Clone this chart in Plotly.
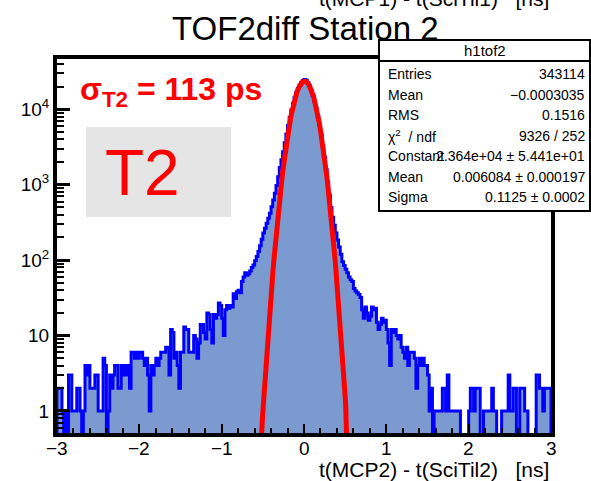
import numpy as np
import plotly.graph_objects as go

# ---------------- data ----------------
x_lo, x_hi, n_bins = -3.0, 3.0, 300
counts = [
    2, 2, 2, 1, 0, 1, 0, 3, 3, 1,
    1, 1, 2, 2, 1, 0, 1, 4, 3, 4,
    2, 2, 2, 3, 3, 1, 1, 1, 5, 4,
    0, 1, 3, 2, 3, 4, 4, 2, 2, 4,
    3, 4, 3, 4, 2, 6, 6, 5, 6, 5,
    6, 6, 5, 4, 5, 3, 1, 4, 3, 4,
    5, 4, 5, 6, 6, 6, 7, 7, 3, 12,
    11, 5, 6, 4, 2, 6, 6, 13, 12, 12,
    6, 6, 6, 10, 9, 5, 8, 14, 14, 11,
    9, 20, 19, 12, 8, 19, 17, 19, 27, 25,
    17, 10, 22, 25, 23, 25, 24, 36, 31, 38,
    40, 37, 52, 60, 68, 63, 66, 72, 80, 86,
    98, 112, 130, 155, 190, 229, 265, 310, 360, 420,
    510, 630, 770, 980, 1280, 1700, 2150, 2750, 3600, 4700,
    6100, 7800, 9800, 12100, 14500, 16900, 19100, 21000, 22700, 24200,
    24900, 24300, 22600, 20400, 17900, 15300, 12700, 10300, 8100, 6200,
    4600, 3300, 2300, 1600, 1080, 730, 500, 370, 290, 230,
    185, 150, 120, 95, 85, 76, 68, 60, 55, 52,
    42, 39, 37, 35, 32, 22, 17, 24, 20, 16,
    18, 24, 22, 23, 15, 12, 14, 17, 15, 16,
    12, 8, 4, 12, 11, 12, 10, 9, 10, 7,
    6, 5, 7, 4, 6, 6, 6, 5, 2, 4,
    5, 4, 5, 4, 4, 3, 1, 2, 0, 1,
    1, 1, 1, 1, 2, 2, 1, 3, 1, 1,
    1, 1, 1, 1, 1, 0, 0, 0, 0, 0,
    1, 2, 2, 1, 2, 2, 2, 0, 0, 1,
    1, 1, 1, 1, 2, 1, 1, 0, 0, 0,
    1, 1, 1, 1, 3, 1, 1, 2, 2, 0,
    0, 2, 2, 2, 1, 1, 0, 0, 0, 0,
    0, 3, 3, 2, 2, 1, 2, 2, 2, 2,
]

fit_constant = 2.364e4
fit_mean = 0.006084
fit_sigma = 0.1125

x_tick_vals = [-3, -2, -1, 0, 1, 2, 3]
x_tick_text = ["\u22123", "\u22122", "\u22121", "0", "1", "2", "3"]
y_tick_vals = [1, 10, 100, 1000, 10000]
y_tick_text = ["1", "10", "10<sup>2</sup>", "10<sup>3</sup>", "10<sup>4</sup>"]

stats_labels = ["Entries", "Mean", "RMS", "\u03c7<sup>2</sup>  / ndf", "Constant", "Mean", "Sigma"]
stats_values = ["343114", "\u22120.0003035", "0.1516", "9326 / 252",
                "2.364e+04 \u00b1 5.441e+01", "0.006084 \u00b1 0.000197", "0.1125 \u00b1 0.0002"]

# ---------------- geometry helpers (pixel -> paper) ----------------
W, H = 591, 481
PL, PR, PT, PB = 57, 551, 59, 433


def px(x):
    return (x - PL) / (PR - PL)


def py(y):
    return (PB - y) / (PB - PT)


# ---------------- traces ----------------
edges = np.linspace(x_lo, x_hi, n_bins + 1)
c = np.array(counts, dtype=float)
floor = 0.05
c_plot = np.where(c > 0, c, floor)
xs = np.concatenate([[edges[0]], edges, [edges[-1]]])
ys = np.concatenate([[floor], c_plot, [c_plot[-1], floor]])

xf = np.linspace(x_lo, x_hi, 600)
yf = fit_constant * np.exp(-0.5 * ((xf - fit_mean) / fit_sigma) ** 2)

fig = go.Figure()
fig.add_trace(go.Scatter(x=xs, y=ys, mode="lines", line=dict(color="#0000ff", width=3, shape="hv"),
                         fill="toself", fillcolor="rgb(123,155,208)", hoverinfo="skip"))
fig.add_trace(go.Scatter(x=xf, y=yf, mode="lines", line=dict(color="#ff0000", width=5),
                         hoverinfo="skip"))

# ---------------- layout ----------------
minor_y = [m * 10 ** k for k in range(-1, 5) for m in range(2, 10)]

fig.update_layout(
    width=W, height=H,
    margin=dict(l=PL, r=W - PR, t=PT, b=H - PB),
    paper_bgcolor="white", plot_bgcolor="white",
    showlegend=False,
    font=dict(family="Liberation Sans, Arial, sans-serif", color="black"),
    xaxis=dict(range=[x_lo, x_hi], tickmode="array", tickvals=x_tick_vals, showticklabels=False,
               ticks="inside", ticklen=9, tickwidth=2, tickcolor="black",
               minor=dict(tickmode="linear", tick0=0, dtick=0.2, ticks="inside", ticklen=5,
                          tickwidth=2, tickcolor="black", showgrid=False),
               showline=True, linewidth=4, linecolor="black", mirror=True,
               showgrid=False, zeroline=False),
    yaxis=dict(type="log", range=[-0.292, 4.668], tickmode="array", tickvals=y_tick_vals,
               ticktext=y_tick_text, ticks="inside", ticklen=13, tickwidth=2.5, tickcolor="black",
               minor=dict(tickmode="array", tickvals=minor_y, ticks="inside", ticklen=7,
                          tickwidth=2, tickcolor="black", showgrid=False),
               showline=True, linewidth=4, linecolor="black", mirror=True,
               showgrid=False, zeroline=False, tickfont=dict(size=19)),
)

shapes = []
# gray label box
shapes.append(dict(type="rect", xref="paper", yref="paper", x0=px(86), x1=px(231), y0=py(217), y1=py(127),
                   fillcolor="#e5e5e5", line=dict(width=0), layer="above"))
# stats box
shapes.append(dict(type="rect", xref="paper", yref="paper", x0=px(379), x1=px(590), y0=py(211), y1=py(40),
                   fillcolor="white", line=dict(color="black", width=2), layer="above"))
shapes.append(dict(type="line", xref="paper", yref="paper", x0=px(379), x1=px(590), y0=py(61), y1=py(61),
                   line=dict(color="black", width=2), layer="above"))
fig.update_layout(shapes=shapes)

ann = []
for tv, tt in zip(x_tick_vals, x_tick_text):
    ann.append(dict(text=tt, x=tv, xref="x", y=py(448), yref="paper", showarrow=False,
                    xanchor="center", yanchor="middle", font=dict(size=19)))
ann.append(dict(text="TOF2diff Station 2", x=px(305), y=py(29), xref="paper", yref="paper",
                showarrow=False, xanchor="center", yanchor="middle", font=dict(size=33)))
ann.append(dict(text="t(MCP1) - t(SciTil1)   [ns]", x=px(551), y=py(12), xref="paper", yref="paper",
                showarrow=False, xanchor="right", yanchor="bottom", font=dict(size=21)))
ann.append(dict(text="t(MCP2) - t(SciTil2)   [ns]", x=px(551), y=py(469), xref="paper", yref="paper",
                showarrow=False, xanchor="right", yanchor="middle", font=dict(size=21)))
ann.append(dict(text="<b>\u03c3<sub>T2</sub> = 113 ps</b>", x=px(78), y=py(91), xref="paper", yref="paper",
                showarrow=False, xanchor="left", yanchor="middle", font=dict(size=32, color="#ff0000")))
ann.append(dict(text="T2", x=px(142), y=py(173), xref="paper", yref="paper",
                showarrow=False, xanchor="center", yanchor="middle", font=dict(size=64, color="#ff0000")))
ann.append(dict(text="h1tof2", x=px(485), y=py(51), xref="paper", yref="paper",
                showarrow=False, xanchor="center", yanchor="middle", font=dict(size=15)))
row_y = [74, 94.5, 115, 135.5, 156, 176.5, 197]
for lab, val, yy in zip(stats_labels, stats_values, row_y):
    ann.append(dict(text=lab, x=px(386), y=py(yy), xref="paper", yref="paper", showarrow=False,
                    xanchor="left", yanchor="middle", font=dict(size=14)))
    ann.append(dict(text=val, x=px(587), y=py(yy), xref="paper", yref="paper", showarrow=False,
                    xanchor="right", yanchor="middle", font=dict(size=14)))
fig.update_layout(annotations=ann)

fig.write_html("out.html")
